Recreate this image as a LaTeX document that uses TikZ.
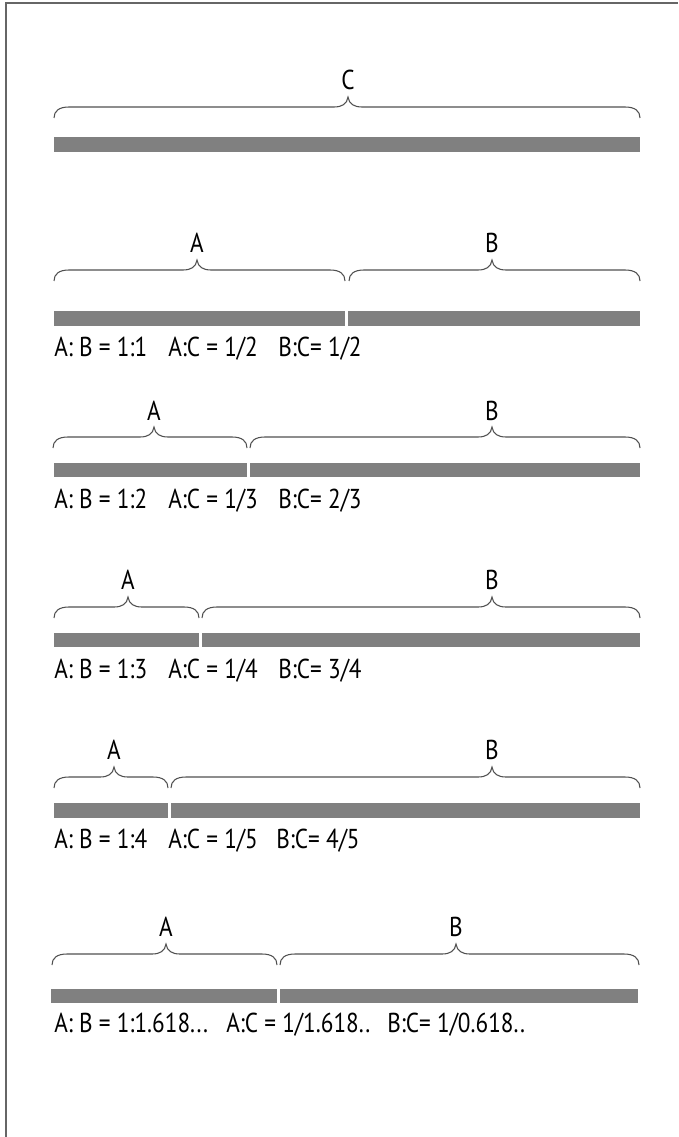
\documentclass[tikz,border=0pt]{standalone}
\usepackage{fontspec}
\setmainfont{PT Sans}[FakeStretch=0.85]
\definecolor{bargray}{HTML}{808080}
\definecolor{bracegray}{HTML}{505050}
\definecolor{framegray}{HTML}{666666}
\newcommand\upbrace[4]{% x1 x2 xm yline
  \draw[brace] (#1,#4+11) .. controls (#1,#4+4) and (#1+5,#4) .. (#1+15,#4)
    -- (#3-14,#4) .. controls (#3-6,#4) and (#3-1,#4-3) .. (#3,#4-10)
    .. controls (#3+1,#4-3) and (#3+6,#4) .. (#3+14,#4)
    -- (#2-15,#4) .. controls (#2-5,#4) and (#2,#4+4) .. (#2,#4+11);}
\begin{document}
\begin{tikzpicture}[x=0.75pt,y=-0.75pt,
  bar/.style={fill=bargray},
  brace/.style={draw=bracegray, line width=0.8pt},
  lbl/.style={font=\fontsize{20.5}{24}\selectfont, inner sep=0pt, anchor=center},
  ratio/.style={font=\fontsize{20.5}{24}\selectfont, inner sep=0pt, anchor=base west}]
\useasboundingbox (0,0) rectangle (678,1137);
% frame
\draw[framegray, line width=1.5pt] (5.5,1137) -- (5.5,3.5) -- (678,3.5);

% row 1
\node[lbl] (C) at (348,80) {C};
\upbrace{54}{640}{348}{107}
\fill[bar] (54,137) rectangle (640,152);

% row 2
\node[lbl] (A2) at (197,243) {A};
\node[lbl] (B2) at (492,243) {B};
\upbrace{54}{345}{197}{270}
\upbrace{349}{640}{492}{270}
\fill[bar] (54,311) rectangle (345,326);
\fill[bar] (348,311) rectangle (640,326);
\node[ratio] (r2a) at (54,356) {A: B = 1:1};
\node[ratio] (r2b) at (168,356) {A:C = 1/2};
\node[ratio] (r2c) at (278,356) {B:C= 1/2};

% row 3
\node[lbl] (A3) at (154,411) {A};
\node[lbl] (B3) at (492,411) {B};
\upbrace{53}{247}{154}{437}
\upbrace{250}{640}{492}{437}
\fill[bar] (54,463) rectangle (247,477);
\fill[bar] (250,463) rectangle (640,477);
\node[ratio] (r3a) at (54,508) {A: B = 1:2};
\node[ratio] (r3b) at (168,508) {A:C = 1/3};
\node[ratio] (r3c) at (278,508) {B:C= 2/3};

% row 4
\node[lbl] (A4) at (128,580) {A};
\node[lbl] (B4) at (492,580) {B};
\upbrace{54}{199}{128}{607}
\upbrace{202}{640}{492}{607}
\fill[bar] (54,633) rectangle (199,647);
\fill[bar] (202,633) rectangle (640,647);
\node[ratio] (r4a) at (54,678) {A: B = 1:3};
\node[ratio] (r4b) at (168,678) {A:C = 1/4};
\node[ratio] (r4c) at (278,678) {B:C= 3/4};

% row 5
\node[lbl] (A5) at (114,750) {A};
\node[lbl] (B5) at (492,750) {B};
\upbrace{54}{168}{114}{777}
\upbrace{171}{640}{492}{777}
\fill[bar] (54,803) rectangle (168,818);
\fill[bar] (171,803) rectangle (640,818);
\node[ratio] (r5a) at (54,848) {A: B = 1:4};
\node[ratio] (r5b) at (168,848) {A:C = 1/5};
\node[ratio] (r5c) at (276,848) {B:C= 4/5};

% row 6
\node[lbl] (A6) at (166,927) {A};
\node[lbl] (B6) at (456,927) {B};
\upbrace{52}{277}{166}{954}
\upbrace{280}{639}{456}{954}
\fill[bar] (51,989) rectangle (277,1003);
\fill[bar] (280,989) rectangle (638,1003);
\node[ratio] (r6a) at (54,1032) {A: B = 1:1.618...};
\node[ratio] (r6b) at (226,1032) {A:C = 1/1.618..};
\node[ratio] (r6c) at (387,1032) {B:C= 1/0.618..};
\end{tikzpicture}
\end{document}
